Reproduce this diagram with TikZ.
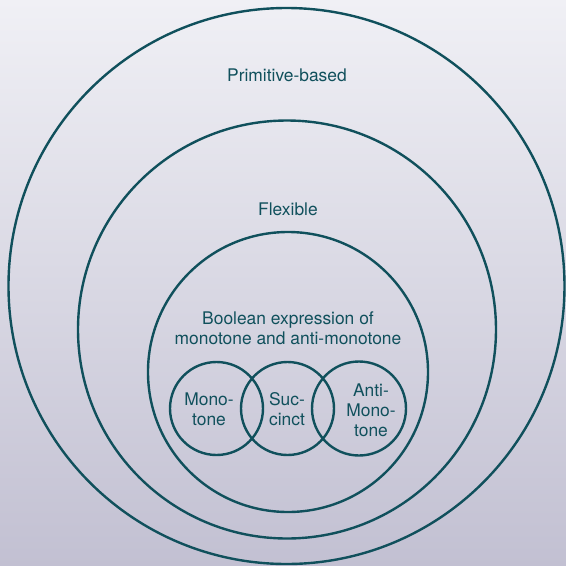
\documentclass[tikz,border=0pt]{standalone}
\usepackage{fontspec}
\setmainfont{TeX Gyre Heros}
\usetikzlibrary{positioning}

\definecolor{ring}{RGB}{16,80,92}
\definecolor{bgtop}{RGB}{240,240,245}
\definecolor{bgbot}{RGB}{194,192,210}

\begin{document}
\begin{tikzpicture}[x=1pt, y=-1pt,
    ringc/.style={circle, draw=ring, line width=2.4pt, inner sep=0pt},
    lbl/.style={text=ring, font=\fontsize{17.4}{20}\selectfont, align=center, inner sep=0pt}]
            % background
            \shade[top color=bgtop, bottom color=bgbot] (0,0) rectangle (566,566);
            \useasboundingbox (0,0) rectangle (566,566);
            % rings
            \node[ringc, minimum size=556pt] (prim) at (286.5,286) {};
            \node[ringc, minimum size=418pt] (flex) at (287,329.5) {};
            \node[ringc, minimum size=280pt] (bool) at (288,372) {};
            \node[ringc, minimum size=93pt] (mono) at (216.5,408.5) {};
            \node[ringc, minimum size=93pt] (succ) at (287.5,408.5) {};
            \node[ringc, minimum size=94pt] (anti) at (359,408.5) {};
            % labels
            \node[lbl] (primtxt) at (287,75) {Primitive-based};
            \node[lbl] (flextxt) at (288,209) {Flexible};
            \node[lbl] (booltxt) at (288,328) {Boolean expression of\\monotone and anti-monotone};
            \node[lbl] (monotxt) at (209,409) {Mono-\\tone};
            \node[lbl] (succtxt) at (287,409) {Suc-\\cinct};
            \node[lbl] (antitxt) at (371,410) {Anti-\\Mono-\\tone};
        \end{tikzpicture}
\end{document}
